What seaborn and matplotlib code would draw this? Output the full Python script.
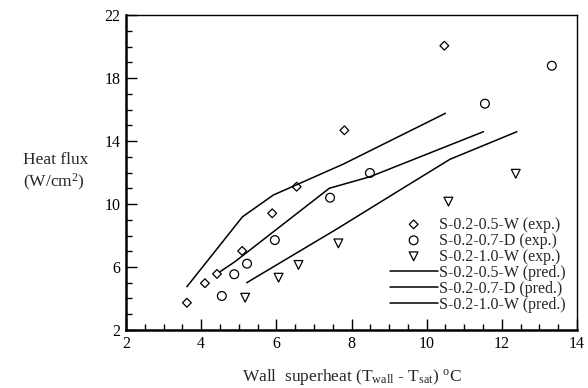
import pandas as pd
import matplotlib.pyplot as plt
from matplotlib.ticker import MultipleLocator
import seaborn as sns

# experimental points
x_05w = [3.62, 4.10, 4.42, 5.09, 5.89, 6.54, 7.81, 10.47]
y_05w = [3.73, 4.97, 5.56, 7.02, 9.41, 11.10, 14.68, 20.05]
x_07d = [4.55, 4.88, 5.22, 5.96, 7.43, 8.49, 11.55, 13.33]
y_07d = [4.16, 5.54, 6.21, 7.71, 10.40, 11.97, 16.37, 18.78]
x_10w = [5.17, 6.06, 6.59, 7.65, 10.58, 12.37]
y_10w = [4.05, 5.32, 6.13, 7.50, 10.15, 11.92]

# predicted curves
px_05w = [3.62, 5.10, 5.92, 7.77, 10.50]
py_05w = [4.75, 9.19, 10.57, 12.52, 15.76]
px_07d = [4.50, 4.90, 7.41, 8.49, 11.51]
py_07d = [5.70, 6.34, 11.00, 11.73, 14.59]
px_10w = [5.21, 7.60, 9.29, 10.62, 12.40]
py_10w = [5.00, 8.40, 10.89, 12.84, 14.59]

exp_labels = ['S-0.2-0.5-W (exp.)', 'S-0.2-0.7-D (exp.)', 'S-0.2-1.0-W (exp.)']
pred_labels = ['S-0.2-0.5-W (pred.)', 'S-0.2-0.7-D (pred.)', 'S-0.2-1.0-W (pred.)']

sns.set_style('ticks')
plt.rcParams['font.family'] = ['Liberation Serif', 'DejaVu Serif']
plt.rcParams['mathtext.fontset'] = 'custom'
plt.rcParams['mathtext.rm'] = 'Liberation Serif'
plt.rcParams['mathtext.it'] = 'Liberation Serif:italic'

fig = plt.figure(figsize=(5.88, 3.88), dpi=100)
ax = fig.add_axes([0.2143, 0.1495, 0.7670, 0.8118])

exp = pd.concat([
    pd.DataFrame({'x': x_05w, 'y': y_05w, 'set': exp_labels[0]}),
    pd.DataFrame({'x': x_07d, 'y': y_07d, 'set': exp_labels[1]}),
    pd.DataFrame({'x': x_10w, 'y': y_10w, 'set': exp_labels[2]}),
])
pred = pd.concat([
    pd.DataFrame({'x': px_05w, 'y': py_05w, 'set': pred_labels[0]}),
    pd.DataFrame({'x': px_07d, 'y': py_07d, 'set': pred_labels[1]}),
    pd.DataFrame({'x': px_10w, 'y': py_10w, 'set': pred_labels[2]}),
])

markers = {exp_labels[0]: 'D', exp_labels[1]: 'o', exp_labels[2]: 'v'}
sizes = {exp_labels[0]: 20, exp_labels[1]: 40, exp_labels[2]: 40}
handles = []
for lab in exp_labels:
    d = exp[exp['set'] == lab]
    sns.scatterplot(data=d, x='x', y='y', marker=markers[lab], s=sizes[lab],
                    facecolor='none', edgecolor='black', linewidth=0.9, ax=ax)
    handles.append(ax.collections[-1])
for lab in pred_labels:
    d = pred[pred['set'] == lab]
    sns.lineplot(data=d, x='x', y='y', sort=False, estimator=None,
                 color='black', linewidth=1.1, ax=ax)
    handles.append(ax.lines[-1])

ax.set_xlim(2, 14)
ax.set_ylim(2, 22)
ax.xaxis.set_major_locator(MultipleLocator(2))
ax.xaxis.set_minor_locator(MultipleLocator(0.5))
ax.yaxis.set_major_locator(MultipleLocator(4, offset=2))
ax.yaxis.set_minor_locator(MultipleLocator(1))
ax.tick_params(which='both', direction='in', top=False, right=False,
               labelsize=11.5, width=1.0, pad=4, colors='black')
ax.tick_params(which='major', length=8)
ax.tick_params(which='minor', length=4)
for s in ['left', 'bottom']:
    ax.spines[s].set_linewidth(1.8)
    ax.spines[s].set_color('black')
for s in ['top', 'right']:
    ax.spines[s].set_visible(True)
    ax.spines[s].set_linewidth(1.0)
    ax.spines[s].set_color('black')

ax.set_xlabel(r'Wall  superheat (T$_{\rm wall}$ - T$_{\rm sat}$) $^{\rm o}$C', fontsize=12.5, labelpad=11)
ax.set_ylabel('Heat flux\n(W/cm$^2$)', fontsize=12.5, rotation=0, ha='center', va='center',
              multialignment='left')
ax.yaxis.set_label_coords(-0.155, 0.5)

ax.legend(handles, exp_labels + pred_labels, loc='lower right', frameon=False,
          fontsize=11.5, handlelength=3.0, handletextpad=0.1, labelspacing=0.0,
          borderaxespad=0.3, bbox_to_anchor=(1.0, 0.02))

fig.savefig('out.png', dpi=100)
